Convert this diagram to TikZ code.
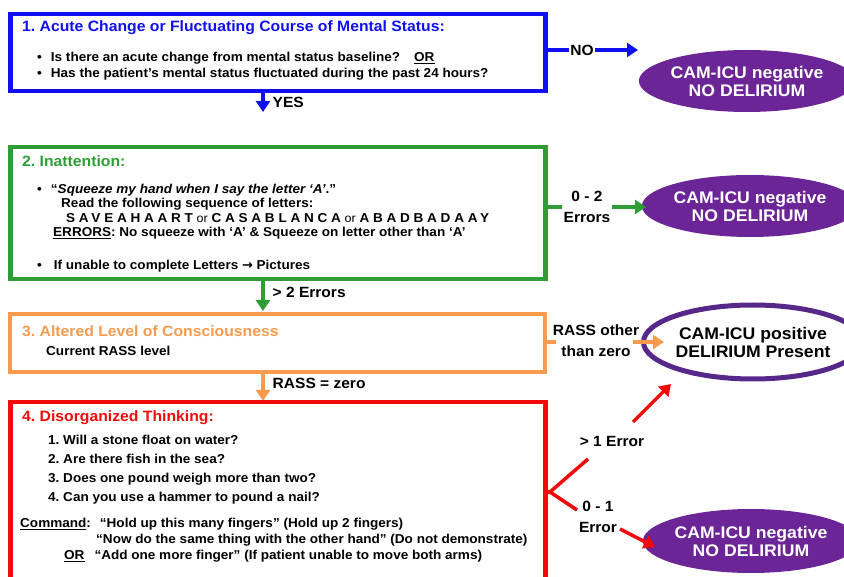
\documentclass[tikz,border=0pt]{standalone}
\usepackage{fontspec}
\setmainfont{Liberation Sans}[FakeStretch=1.05]
\newfontfamily\arrowfont{DejaVu Sans}
\usetikzlibrary{arrows.meta,shapes.geometric}
\definecolor{camblue}{HTML}{1010F2}
\definecolor{camgreen}{HTML}{2E9E34}
\definecolor{camorange}{HTML}{F79A4E}
\definecolor{camred}{HTML}{F20A0A}
\definecolor{campurple}{HTML}{6C2596}
\definecolor{camring}{HTML}{55288A}
\newcommand{\titlefont}{\bfseries\fontsize{15}{17}\selectfont}
\newcommand{\bodyfont}{\bfseries\fontsize{12.9}{15}\selectfont}
\newcommand{\labelfont}{\bfseries\fontsize{14.8}{21}\selectfont}
\newcommand{\ovalfont}{\bfseries\fontsize{16.8}{18}\selectfont}
\newcommand{\spaced}[1]{{\addfontfeature{LetterSpace=29}#1}}
\frenchspacing
\tikzset{
  stepbox/.style={draw, line width=4.5pt, minimum width=535pt, anchor=north west, inner sep=0pt},
  txt/.style={anchor=west, inner sep=0pt, font=\bodyfont},
  ttl/.style={anchor=west, inner sep=0pt, font=\titlefont},
  lbl/.style={inner sep=1.5pt, font=\labelfont, align=center},
  branch/.style={line width=3.5pt},
  flow/.style={line width=3.5pt, -{Triangle[length=11pt,width=14pt]}},
  oval/.style={ellipse, inner sep=0pt, font=\ovalfont, align=center},
  negoval/.style={oval, fill=campurple, text=white},
}

\begin{document}
\begin{tikzpicture}[x=1pt,y=-1pt]
		%%%%% START %%%%%
		\clip (0,0) rectangle (844,577);
		
		% step 1
		\node[stepbox, draw=camblue, minimum height=77pt] (acute) at (8,12) {};
		\node[ttl, text=camblue] (acutettl) at (22,28) {1. Acute Change or Fluctuating Course of Mental Status:};
		\node[txt] (acutea) at (37,58) {\textbullet\hspace{9pt}Is there an acute change from mental status baseline?\hspace{14pt}\underline{OR}};
		\node[txt] (acuteb) at (37,74) {\textbullet\hspace{9pt}Has the patient’s mental status fluctuated during the past 24 hours?};
		
		\node[negoval, minimum width=185pt, minimum height=62pt] (neg1) at (747,81) {CAM-ICU negative\\NO DELIRIUM};
		\node[lbl] (nolbl) at (582,50) {NO};
		\coordinate (noend) at (638,50);
		\draw[branch, camblue] (acute.east |- nolbl) -- (nolbl);
		\draw[flow, camblue] (nolbl) -- (noend);
		
		\coordinate (yesend) at (263,112);
		\draw[flow, camblue] (acute.south -| yesend) -- (yesend);
		\node[lbl, anchor=west] (yeslbl) at (271,102) {YES};
		
		% step 2
		\node[stepbox, draw=camgreen, minimum height=132pt] (inatt) at (8,145) {};
		\node[ttl, text=camgreen] (inattttl) at (22,161) {2. Inattention:};
		\node[txt] (inatta) at (37,190) {\textbullet\hspace{9pt}“\textit{Squeeze my hand when I say the letter ‘A’}.”};
		\node[txt] (inattb) at (61,204) {Read the following sequence of letters:};
		\node[txt] (inattc) at (66,218) {\spaced{SAVEAHAART} {\mdseries\fontsize{12}{14}\selectfont or} \spaced{CASABLANCA} {\mdseries\fontsize{12}{14}\selectfont or} \spaced{ABADBADAAY}};
		\node[txt] (inattd) at (53,233) {\underline{ERRORS}: No squeeze with ‘A’ \& Squeeze on letter other than ‘A’};
		\node[txt] (inatte) at (37,266) {\textbullet\hspace{12pt}If unable to complete Letters {\arrowfont\bfseries →} Pictures};
		
		\node[negoval, minimum width=186pt, minimum height=62pt] (neg2) at (750,206) {CAM-ICU negative\\NO DELIRIUM};
		\node[lbl] (errlbl) at (587,207) {0 - 2\\Errors};
		\coordinate (errend) at (646,207);
		\draw[branch, camgreen] (inatt.east |- errlbl) -- (errlbl);
		\draw[flow, camgreen] (errlbl) -- (errend);
		
		\coordinate (moreend) at (263,311);
		\draw[flow, camgreen] (inatt.south -| moreend) -- (moreend);
		\node[lbl, anchor=west] (morelbl) at (271,292) {> 2 Errors};
		
		% step 3
		\node[stepbox, draw=camorange, line width=4pt, minimum height=58pt] (level) at (8,312) {};
		\node[ttl, text=camorange] (levelttl) at (22,331) {3. Altered Level of Consciousness};
		\node[txt] (levela) at (46,351) {Current RASS level};
		
		\node[oval, draw=camring, line width=5pt, fill=white, minimum width=180pt, minimum height=74pt] (pos) at (753,342) {CAM-ICU positive\\DELIRIUM Present};
		\node[lbl] (rasslbl) at (596,341) {RASS other\\than zero};
		\coordinate (rassend) at (664,342);
		\draw[branch, camorange] (level.east |- rassend) -- (556,342);
		\draw[flow, camorange] (633,342) -- (rassend);
		
		\coordinate (zeroend) at (263,401);
		\draw[flow, camorange] (level.south -| zeroend) -- (zeroend);
		\node[lbl, anchor=west] (zerolbl) at (271,383) {RASS = zero};
		
		% step 4
		\node[stepbox, draw=camred, minimum height=200pt] (think) at (8,400) {};
		\node[ttl, text=camred] (thinkttl) at (22,418) {4. Disorganized Thinking:};
		\node[txt] (thinka) at (48,440) {1. Will a stone float on water?};
		\node[txt] (thinkb) at (48,459) {2. Are there fish in the sea?};
		\node[txt] (thinkc) at (48,479) {3. Does one pound weigh more than two?};
		\node[txt] (thinkd) at (48,498) {4. Can you use a hammer to pound a nail?};
		\node[txt] (cmda) at (20,524) {\underline{Command}:\hspace{9pt}“Hold up this many fingers” (Hold up 2 fingers)};
		\node[txt] (cmdb) at (96,540) {“Now do the same thing with the other hand” (Do not demonstrate)};
		\node[txt] (cmdc) at (64,556) {\underline{OR}\hspace{10pt}“Add one more finger” (If patient unable to move both arms)};
		
		\node[negoval, minimum width=182pt, minimum height=64pt] (neg3) at (751,541) {CAM-ICU negative\\NO DELIRIUM};
		\node[lbl] (gtlbl) at (612,441) {> 1 Error};
		\node[lbl] (lelbl) at (598,517) {0 - 1\\Error};
		\coordinate (fork) at (550,492);
		\coordinate (upa) at (588,459);
		\coordinate (upb) at (633,422);
		\coordinate (upend) at (671,384);
		\coordinate (dna) at (577,510);
		\coordinate (dnb) at (620,529);
		\coordinate (dnend) at (655,547);
		\draw[branch, camred, line join=miter] (upa) -- (fork) -- (dna);
		\draw[branch, camred] (think.east |- fork) -- (fork);
		\draw[flow, camred] (upb) -- (upend);
		\draw[flow, camred] (dnb) -- (dnend);
		%%%%% END %%%%%
\end{tikzpicture}
\end{document}
